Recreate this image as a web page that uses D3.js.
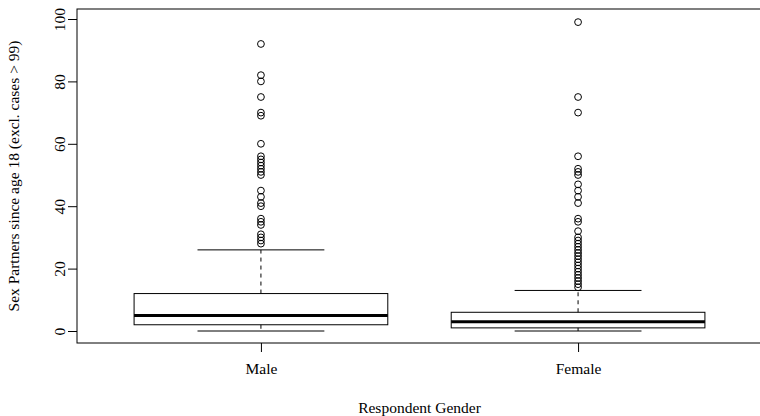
<!DOCTYPE html>
<html>
<head>
<meta charset="utf-8">
<script src="https://cdn.jsdelivr.net/npm/d3@7"></script>
<style>
  html, body { margin: 0; padding: 0; background: #fff; }
  svg { display: block; }
  text { font-family: "Liberation Serif", "Times New Roman", serif; fill: #000; }
</style>
</head>
<body>
<svg id="chart" width="760" height="416"></svg>
<script>
// Box summaries per gender
const categories = ["Male", "Female"];
const whiskerLow = [0, 0];
const lowerQuartile = [2, 1];
const medians = [5, 3];
const upperQuartile = [12, 6];
const whiskerHigh = [26, 13];

// Points beyond the whiskers
const maleOutliers = [92, 82, 80, 75, 70, 69, 60, 56, 55, 54, 53, 52, 51, 50,
  45, 43, 41, 40, 36, 35, 34, 31, 30, 29, 28];
const femaleOutliers = [99, 75, 70, 56, 52, 51, 50, 47, 45, 43, 41, 36, 35, 32,
  30, 29, 28, 27, 26, 25, 24, 23, 22, 21, 20, 19, 18, 17, 16, 15, 14];
const outliers = [maleOutliers, femaleOutliers];

const yTicks = [0, 20, 40, 60, 80, 100];
const xTitle = "Respondent Gender";
const yTitle = "Sex Partners since age 18 (excl. cases > 99)";

const svg = d3.select("#chart");
const frame = { left: 77, top: 9, right: 762, bottom: 343 };
const fontSize = 15.5;

const x = d3.scaleLinear().domain([0.42, 2.58]).range([frame.left, frame.right]);
const y = d3.scaleLinear().domain([0, 100]).range([331, 19]);

const boxHalf = 0.4, stapleHalf = 0.2;

const g = svg.append("g");

categories.forEach((cat, i) => {
  const c = i + 1;
  const cx = x(c);
  // dashed whiskers
  g.append("line")
    .attr("x1", cx).attr("x2", cx)
    .attr("y1", y(upperQuartile[i])).attr("y2", y(whiskerHigh[i]))
    .attr("stroke", "#000").attr("stroke-dasharray", "4,4");
  g.append("line")
    .attr("x1", cx).attr("x2", cx)
    .attr("y1", y(lowerQuartile[i])).attr("y2", y(whiskerLow[i]))
    .attr("stroke", "#000").attr("stroke-dasharray", "4,4");
  // staples
  [whiskerHigh[i], whiskerLow[i]].forEach(v => {
    g.append("line")
      .attr("x1", x(c - stapleHalf)).attr("x2", x(c + stapleHalf))
      .attr("y1", y(v)).attr("y2", y(v))
      .attr("stroke", "#000");
  });
  // box
  g.append("rect")
    .attr("x", x(c - boxHalf))
    .attr("y", y(upperQuartile[i]))
    .attr("width", x(c + boxHalf) - x(c - boxHalf))
    .attr("height", y(lowerQuartile[i]) - y(upperQuartile[i]))
    .attr("fill", "none").attr("stroke", "#000");
  // median
  g.append("line")
    .attr("x1", x(c - boxHalf)).attr("x2", x(c + boxHalf))
    .attr("y1", y(medians[i])).attr("y2", y(medians[i]))
    .attr("stroke", "#000").attr("stroke-width", 3);
  // outliers
  g.selectAll(null).data(outliers[i]).enter().append("circle")
    .attr("cx", cx).attr("cy", d => y(d)).attr("r", 3.4)
    .attr("fill", "none").attr("stroke", "#000");
});

// frame (right edge falls outside the canvas)
svg.append("rect")
  .attr("x", frame.left).attr("y", frame.top)
  .attr("width", frame.right - frame.left)
  .attr("height", frame.bottom - frame.top)
  .attr("fill", "none").attr("stroke", "#000");

// y axis
const yAxis = svg.append("g").attr("transform", `translate(${frame.left},0)`)
  .call(d3.axisLeft(y).tickValues(yTicks).tickSize(9).tickFormat(d3.format("d")));
yAxis.select(".domain").remove();
yAxis.selectAll("line").attr("stroke", "#000");
yAxis.selectAll("text")
  .attr("x", null).attr("dy", null)
  .attr("text-anchor", "middle")
  .attr("transform", "translate(-12,0) rotate(-90)")
  .attr("font-size", fontSize).attr("font-family", "Liberation Serif");

// x axis
const xAxis = svg.append("g").attr("transform", `translate(0,${frame.bottom})`)
  .call(d3.axisBottom(x).tickValues([1, 2]).tickSize(9)
    .tickFormat(d => categories[d - 1]));
xAxis.select(".domain").remove();
xAxis.selectAll("line").attr("stroke", "#000");
xAxis.selectAll("text")
  .attr("y", 31).attr("dy", null)
  .attr("font-size", fontSize).attr("font-family", "Liberation Serif");

// axis titles
svg.append("text")
  .attr("x", (frame.left + 762) / 2)
  .attr("y", 413)
  .attr("text-anchor", "middle")
  .attr("font-size", fontSize)
  .text(xTitle);

svg.append("text")
  .attr("transform", `translate(19,${(frame.top + frame.bottom) / 2}) rotate(-90)`)
  .attr("text-anchor", "middle")
  .attr("font-size", fontSize)
  .text(yTitle);
</script>
</body>
</html>
